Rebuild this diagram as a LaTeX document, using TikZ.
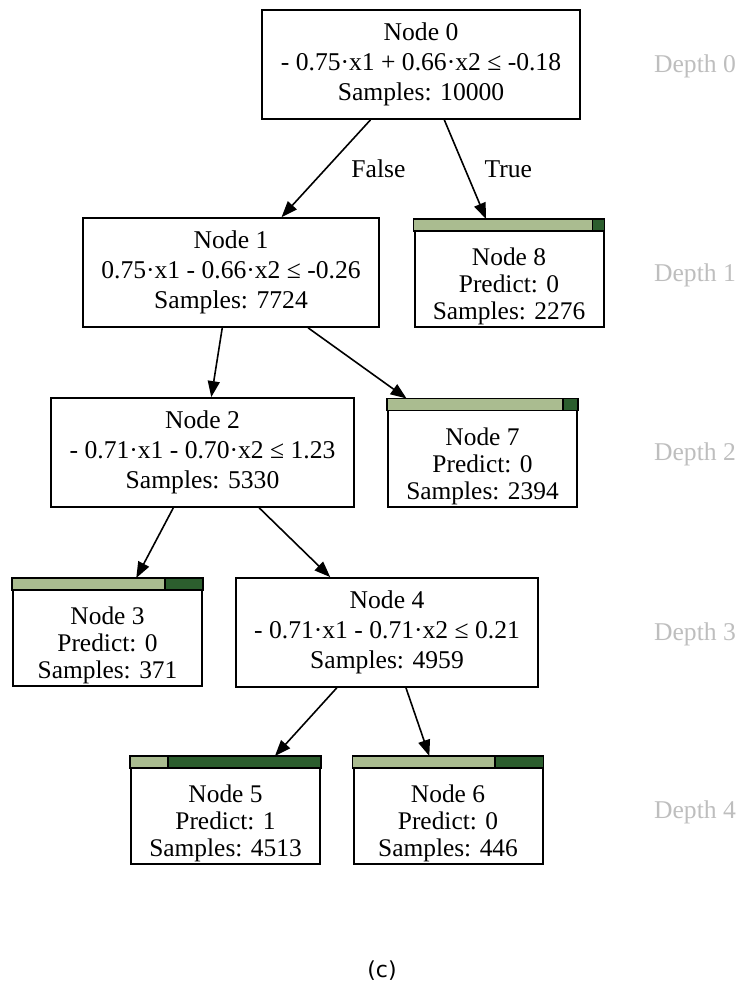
\documentclass[tikz,border=0pt]{standalone}
\usepackage{fontspec}
\setmainfont{Liberation Serif}
\newfontfamily\capfont{DejaVu Sans}
\usetikzlibrary{arrows.meta,calc}
\definecolor{lightgreen}{RGB}{170,188,144}
\definecolor{darkgreen}{RGB}{44,94,46}
\definecolor{depthgray}{RGB}{190,190,190}
\tikzstyle{split}=[draw,line width=0.9pt,align=center,inner sep=0pt,minimum height=54.5pt]
\tikzstyle{leaf}=[draw,line width=1pt,inner sep=0pt,minimum width=94.5pt,minimum height=53.5pt]
\tikzstyle{leaftext}=[align=center,yshift=-6.5pt,font=\fontsize{12.7}{13.5}\selectfont]
\tikzstyle{edge}=[-{Triangle[length=8pt,width=6pt]},line width=0.8pt]
% class bar on top of a leaf: node, share of class 0
\newcommand{\classbar}[2]{
\fill[lightgreen] (#1.north west) rectangle ($(#1.north west)!#2!(#1.north east)+(0,12)$);
\fill[darkgreen] ($(#1.north west)!#2!(#1.north east)$) rectangle ($(#1.north east)+(0,12)$);
\draw[line width=0.9pt] (#1.north west) rectangle ($(#1.north east)+(0,12)$);
\draw[line width=0.9pt] ($(#1.north west)!#2!(#1.north east)$) -- ++(0,12);
}

\begin{document}
\begin{tikzpicture}[x=0.5pt,y=-0.5pt,font=\fontsize{12.8}{15}\selectfont]

\useasboundingbox (0,0) rectangle (741,986);

% % % splits
\node[split,minimum width=159pt] (n0) at (421,64.5) {Node 0\\- 0.75·x1 + 0.66·x2 ≤ -0.18\\Samples: 10000};
\node[split,minimum width=148pt] (n1) at (231,272.5) {Node 1\\0.75·x1 - 0.66·x2 ≤ -0.26\\Samples: 7724};
\node[split,minimum width=151.5pt] (n2) at (202.5,452.5) {Node 2\\- 0.71·x1 - 0.70·x2 ≤ 1.23\\Samples: 5330};
\node[split,minimum width=151pt] (n4) at (387,632.5) {Node 4\\- 0.71·x1 - 0.71·x2 ≤ 0.21\\Samples: 4959};

% % % leaves
\node[leaf,label={[leaftext]center:Node 8\\Predict: 0\\Samples: 2276}] (n8) at (509,273.5) {};
\node[leaf,label={[leaftext]center:Node 7\\Predict: 0\\Samples: 2394}] (n7) at (482.5,453) {};
\node[leaf,label={[leaftext]center:Node 3\\Predict: 0\\Samples: 371}] (n3) at (107.5,632.5) {};
\node[leaf,label={[leaftext]center:Node 5\\Predict: 1\\Samples: 4513}] (n5) at (225.5,810.5) {};
\node[leaf,label={[leaftext]center:Node 6\\Predict: 0\\Samples: 446}] (n6) at (448,810.5) {};

\classbar{n8}{0.937}
\classbar{n7}{0.92}
\classbar{n3}{0.80}
\classbar{n5}{0.20}
\classbar{n6}{0.745}

% % % edges
\draw[edge] (n0) -- (n1) node[midway,right=9pt] {False};
\draw[edge] (n0) -- (n8) node[midway,right=6pt] {True};
\draw[edge] (n1) -- (n2);
\draw[edge] (n1) -- (n7);
\draw[edge] (n2) -- (n3);
\draw[edge] (n2) -- (n4);
\draw[edge] (n4) -- (n5);
\draw[edge] (n4) -- (n6);

% % % depth column
\foreach \d/\y in {0/66,1/275,2/454,3/634,4/812} {
\node[text=depthgray] (depth\d) at (695,\y) {Depth \d};
}

\node[font=\capfont\fontsize{11}{13}\selectfont] (cap) at (382,971) {(c)};

\end{tikzpicture}
\end{document}
